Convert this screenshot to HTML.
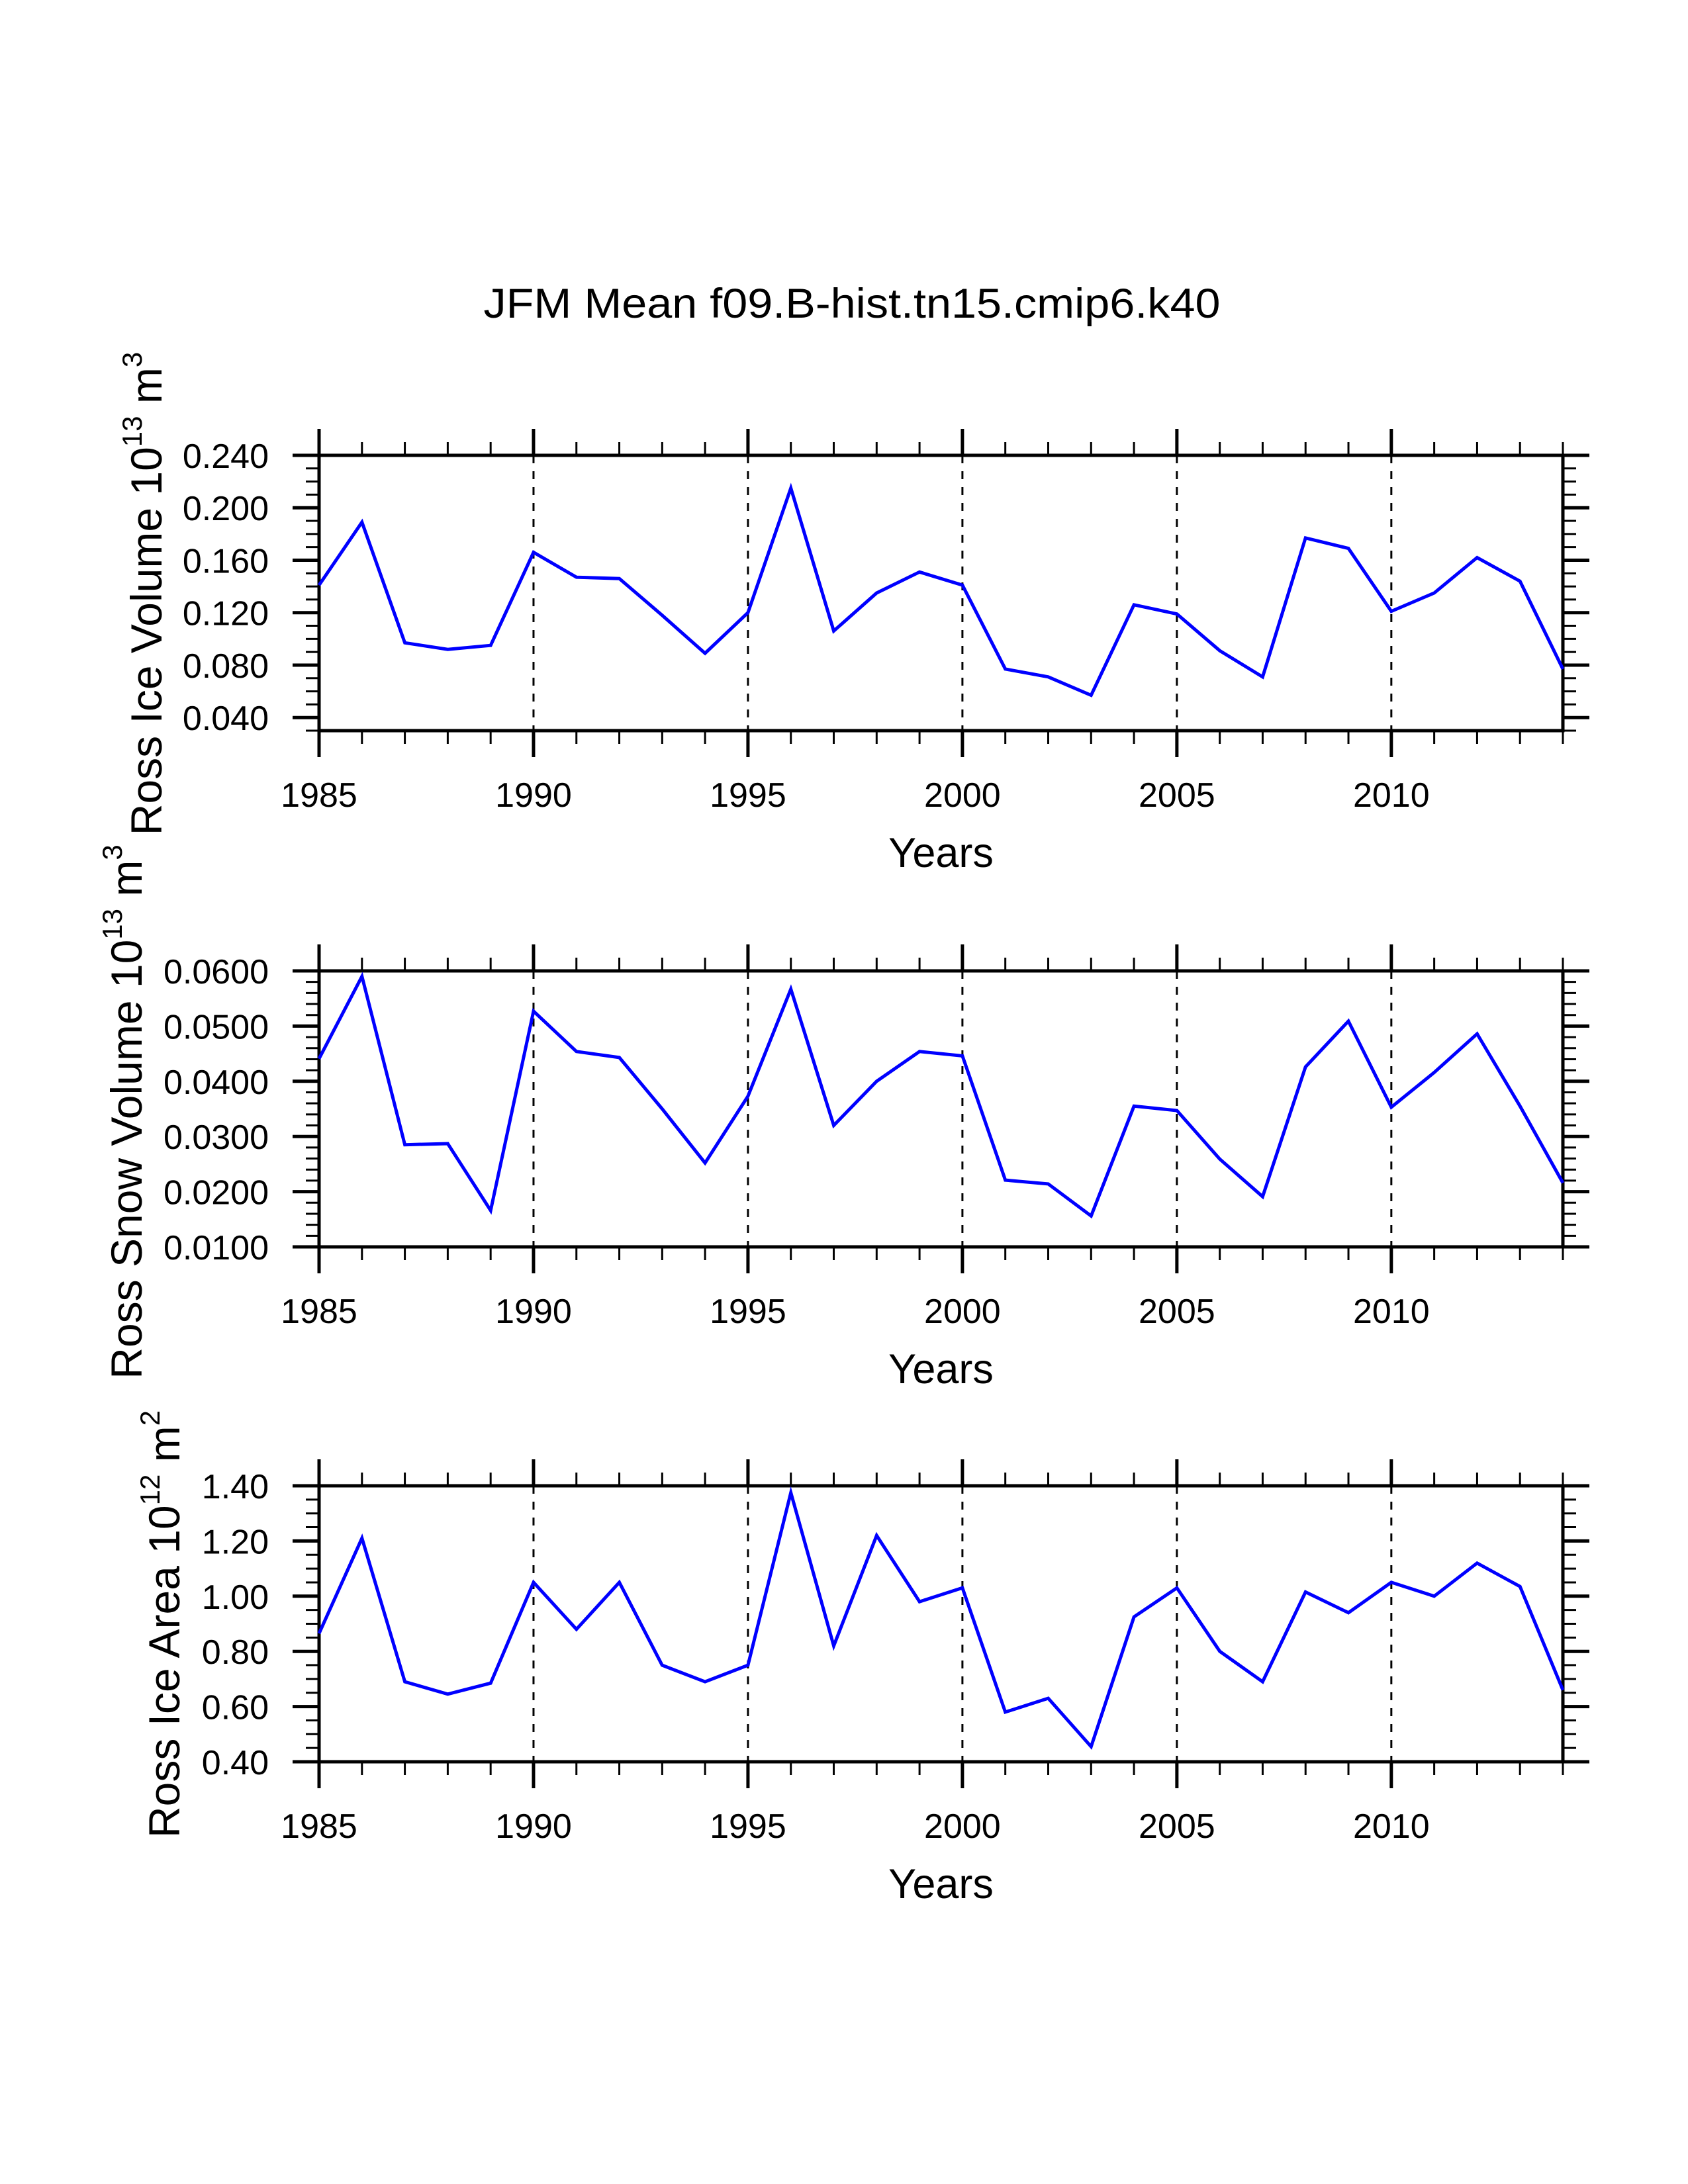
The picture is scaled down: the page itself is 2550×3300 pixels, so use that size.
<!DOCTYPE html>
<html><head><meta charset="utf-8">
<style>
html,body{margin:0;padding:0;background:#fff;}
svg{display:block;}
text{font-family:"Liberation Sans",Arial,sans-serif;fill:#000;}
</style></head>
<body>
<svg id="chart" width="2550" height="3300" viewBox="0 0 2550 3300" xmlns="http://www.w3.org/2000/svg">
<text x="1287" y="480" font-size="63" text-anchor="middle" textLength="1113" lengthAdjust="spacingAndGlyphs">JFM Mean f09.B-hist.tn15.cmip6.k40</text>
</svg>
<script>
const years = [1985,1986,1987,1988,1989,1990,1991,1992,1993,1994,1995,1996,1997,1998,1999,2000,2001,2002,2003,2004,2005,2006,2007,2008,2009,2010,2011,2012,2013,2014];
const iceVolume = [0.141,0.189,0.097,0.092,0.095,0.166,0.147,0.146,0.118,0.089,0.120,0.215,0.106,0.135,0.151,0.141,0.077,0.071,0.057,0.126,0.119,0.091,0.071,0.177,0.169,0.121,0.135,0.162,0.144,0.077];
const snowVolume = [0.0441,0.0590,0.0285,0.0287,0.0166,0.0527,0.0454,0.0443,0.0350,0.0252,0.0373,0.0567,0.0320,0.0400,0.0454,0.0446,0.0221,0.0214,0.0156,0.0355,0.0347,0.0259,0.0191,0.0426,0.0509,0.0353,0.0416,0.0486,0.0355,0.0216];
const iceArea = [0.865,1.21,0.69,0.645,0.685,1.05,0.88,1.05,0.75,0.69,0.75,1.375,0.82,1.22,0.98,1.03,0.58,0.63,0.455,0.925,1.03,0.80,0.69,1.015,0.94,1.05,1.00,1.12,1.035,0.66];
const xTickLabels = ["1985","1990","1995","2000","2005","2010"];
const iceVolTicks = ["0.040","0.080","0.120","0.160","0.200","0.240"];
const snowVolTicks = ["0.0100","0.0200","0.0300","0.0400","0.0500","0.0600"];
const iceAreaTicks = ["0.40","0.60","0.80","1.00","1.20","1.40"];

const NS = "http://www.w3.org/2000/svg";
const svg = document.getElementById('chart');
const X0 = 482, X1 = 2361;
function mk(tag, attrs, parent){
  const e = document.createElementNS(NS, tag);
  for (const k in attrs) e.setAttribute(k, attrs[k]);
  (parent||svg).appendChild(e);
  return e;
}
function xScale(yr){ return X0 + (yr - 1985) / 29 * (X1 - X0); }

const panels = [
  {name:'ice-volume', top:688, bot:1104, min:0.03, max:0.24, minor:0.01, ticks:iceVolTicks, data:iceVolume, title:'Ross Ice Volume 10', sup1:'13', unit:' m', sup2:'3', tx:244, tcy:897},
  {name:'snow-volume', top:1467, bot:1884, min:0.01, max:0.06, minor:0.002, ticks:snowVolTicks, data:snowVolume, title:'Ross Snow Volume 10', sup1:'13', unit:' m', sup2:'3', tx:214, tcy:1680},
  {name:'ice-area', top:2245, bot:2662, min:0.40, max:1.40, minor:0.05, ticks:iceAreaTicks, data:iceArea, title:'Ross Ice Area 10', sup1:'12', unit:' m', sup2:'2', tx:271, tcy:2454}
];

panels.forEach(p => {
  const g = mk('g', {});
  
  
  const yScale = v => p.bot - (v - p.min) / (p.max - p.min) * (p.bot - p.top);

  for (let yr = 1990; yr <= 2010; yr += 5) {
    const l = mk('line', {x1:xScale(yr), x2:xScale(yr), y1:p.top, y2:p.bot, stroke:'#000', 'stroke-width':3, 'stroke-dasharray':'12,12'}, g);
    
    
  }
  for (let yr = 1985; yr <= 2014; yr++) {
    const major = (yr % 5 === 0);
    const len = major ? 40 : 20;
    const x = xScale(yr);
    mk('line', {x1:x, x2:x, y1:p.top, y2:p.top - len, stroke:'#000', 'stroke-width': major?5:3}, g);
    mk('line', {x1:x, x2:x, y1:p.bot, y2:p.bot + len, stroke:'#000', 'stroke-width': major?5:3}, g);
  }
  xTickLabels.forEach(lbl => {
    const t = mk('text', {x:xScale(+lbl), y:p.bot + 115, 'font-size':52, 'text-anchor':'middle'}, g);
    t.textContent = lbl;
    
    
  });
  const nMinor = Math.round((p.max - p.min) / p.minor);
  for (let i = 0; i <= nMinor; i++) {
    const v = p.min + i * p.minor;
    const y = yScale(v);
    mk('line', {x1:X0, x2:X0 - 20, y1:y, y2:y, stroke:'#000', 'stroke-width':3}, g);
    mk('line', {x1:X1, x2:X1 + 20, y1:y, y2:y, stroke:'#000', 'stroke-width':3}, g);
  }
  p.ticks.forEach(lbl => {
    const y = yScale(parseFloat(lbl));
    mk('line', {x1:X0, x2:X0 - 40, y1:y, y2:y, stroke:'#000', 'stroke-width':5}, g);
    mk('line', {x1:X1, x2:X1 + 40, y1:y, y2:y, stroke:'#000', 'stroke-width':5}, g);
    const t = mk('text', {x:406, y:y + 19, 'font-size':52, 'text-anchor':'end'}, g);
    t.textContent = lbl;
    
    
  });
  const r = mk('rect', {x:X0, y:p.top, width:X1 - X0, height:p.bot - p.top, fill:'none', stroke:'#000', 'stroke-width':5}, g);
  
  
  const pts = p.data.map((v, i) => xScale(years[i]).toFixed(1) + ',' + yScale(v).toFixed(1)).join(' ');
  const pl = mk('polyline', {points:pts, fill:'none', stroke:'#0000ff', 'stroke-width':5, 'stroke-linejoin':'miter'}, g);
  
  
  const xt = mk('text', {x:(X0 + X1) / 2, y:p.bot + 206, 'font-size':63, 'text-anchor':'middle'}, g);
  xt.textContent = 'Years';
  
  
  const yt = mk('text', {x:0, y:0, 'font-size':66, 'text-anchor':'middle', transform:'translate(' + p.tx + ',' + p.tcy + ') rotate(-90)'}, g);
  
  
  const s1 = mk('tspan', {}, yt); s1.textContent = p.title;
  const s2 = mk('tspan', {dy:-30, 'font-size':42}, yt); s2.textContent = p.sup1;
  const s3 = mk('tspan', {dy:30}, yt); s3.textContent = p.unit;
  const s4 = mk('tspan', {dy:-30, 'font-size':42}, yt); s4.textContent = p.sup2;
});
</script>
</body></html>
